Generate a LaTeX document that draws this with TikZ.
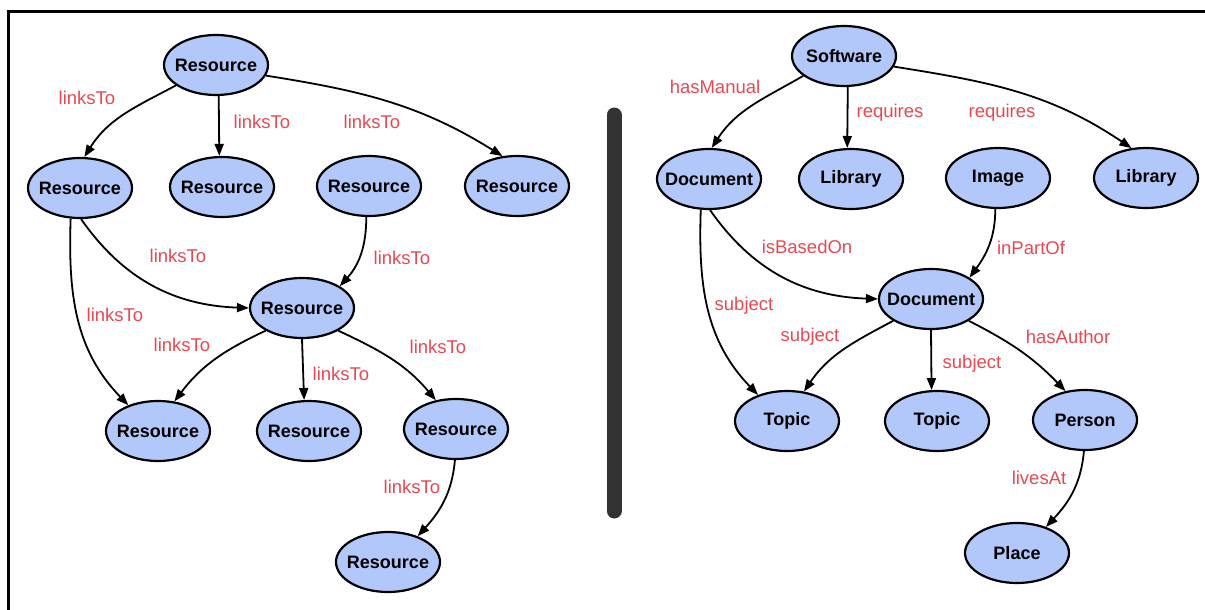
\documentclass[tikz,border=0pt]{standalone}
\usepackage{fontspec}
\setmainfont{Liberation Sans}
\usetikzlibrary{arrows.meta}
\usetikzlibrary{shapes.geometric}
\definecolor{nodeblue}{RGB}{178,199,250}
\definecolor{labelred}{RGB}{232,72,82}
\definecolor{bargray}{RGB}{50,50,50}

\begin{document}
\begin{tikzpicture}[x=1pt,y=1pt,
    res/.style={ellipse,draw,line width=2.2pt,fill=nodeblue,minimum width=104pt,
        minimum height=60pt,inner ysep=0pt,inner xsep=-8pt,font=\fontsize{18}{20}\selectfont\bfseries},
    lbl/.style={text=labelred,inner sep=0pt,font=\fontsize{18.5}{20}\selectfont},
    link/.style={line width=1.8pt,-{Triangle[length=12pt,width=9pt]}}]
                \useasboundingbox (0,0) rectangle (1205,-610);
                \draw[line width=3pt] (8,-610) -- (8,-12) -- (1205,-12);
                \draw[bargray,line width=15pt,line cap=round] (614,-115) -- (614,-511);

                \node[res] (res0) at (216,-65) {Resource};
                \node[res] (res1) at (80,-188) {Resource};
                \node[res] (res2) at (222,-187) {Resource};
                \node[res] (res3) at (369,-186) {Resource};
                \node[res] (res4) at (517,-186) {Resource};
                \node[res] (res5) at (302,-308) {Resource};
                \node[res] (res6) at (158,-431) {Resource};
                \node[res] (res7) at (309,-431) {Resource};
                \node[res] (res8) at (456,-429) {Resource};
                \node[res] (res9) at (388,-562) {Resource};

                \node[res] (soft) at (844,-56) {Software};
                \node[res] (doc1) at (709,-179) {Document};
                \node[res] (lib1) at (851,-179) {Library};
                \node[res] (img) at (998,-178) {Image};
                \node[res] (lib2) at (1146,-178) {Library};
                \node[res] (doc2) at (931,-299) {Document};
                \node[res] (top1) at (787,-421) {Topic};
                \node[res] (top2) at (937,-421) {Topic};
                \node[res] (pers) at (1085,-420) {Person};
                \node[res] (place) at (1017,-553) {Place};

                \draw[link] (res0.207) to[out=208,in=58] (res1.82);
                \draw[link] (res0.-85) -- (res2.95);
                \draw[link] (res0.-12) to[out=-9,in=148] (res4.116);
                \draw[link] (res1.253) to[out=268,in=134] (res6.139);
                \draw[link] (res1.272) to[out=-55,in=178] (res5.west);
                \draw[link] (res3.265) to[out=270,in=48] (res5.30);
                \draw[link] (res5.212) to[out=205,in=53] (res6.61);
                \draw[link] (res5.south) -- (res7.99);
                \draw[link] (res5.328) to[out=-25,in=130] (res8.125);
                \draw[link] (res8.268) to[out=265,in=48] (res9.41);

                \draw[link] (soft.206) to[out=210,in=57] (doc1.85);
                \draw[link] (soft.-83) -- (lib1.97);
                \draw[link] (soft.-12) to[out=-9,in=146] (lib2.116);
                \draw[link] (doc1.255) to[out=268,in=134] (top1.138);
                \draw[link] (doc1.272) to[out=-55,in=178] (doc2.west);
                \draw[link] (img.265) to[out=270,in=54] (doc2.29);
                \draw[link] (doc2.210) to[out=208,in=56] (top1.60);
                \draw[link] (doc2.south) -- (top2.100);
                \draw[link] (doc2.330) to[out=-27,in=134] (pers.124);
                \draw[link] (pers.268) to[out=265,in=47] (place.42);

                \node[lbl] (lt0) at (87,-98) {linksTo};
                \node[lbl] (lt1) at (262,-122) {linksTo};
                \node[lbl] (lt2) at (372,-122) {linksTo};
                \node[lbl] (lt3) at (178,-256) {linksTo};
                \node[lbl] (lt4) at (402,-258) {linksTo};
                \node[lbl] (lt5) at (115,-315) {linksTo};
                \node[lbl] (lt6) at (182,-345) {linksTo};
                \node[lbl] (lt7) at (341,-374) {linksTo};
                \node[lbl] (lt8) at (438,-347) {linksTo};
                \node[lbl] (lt9) at (412,-487) {linksTo};

                \node[lbl] (hm) at (715,-87) {hasManual};
                \node[lbl] (rq1) at (890,-113) {requires};
                \node[lbl] (rq2) at (1002,-113) {requires};
                \node[lbl] (ibo) at (807,-247) {isBasedOn};
                \node[lbl] (ipo) at (1031,-248) {inPartOf};
                \node[lbl] (sb1) at (744,-306) {subject};
                \node[lbl] (sb2) at (810,-337) {subject};
                \node[lbl] (sb3) at (972,-364) {subject};
                \node[lbl] (ha) at (1068,-337) {hasAuthor};
                \node[lbl] (la) at (1039,-478) {livesAt};
            \end{tikzpicture}
\end{document}
